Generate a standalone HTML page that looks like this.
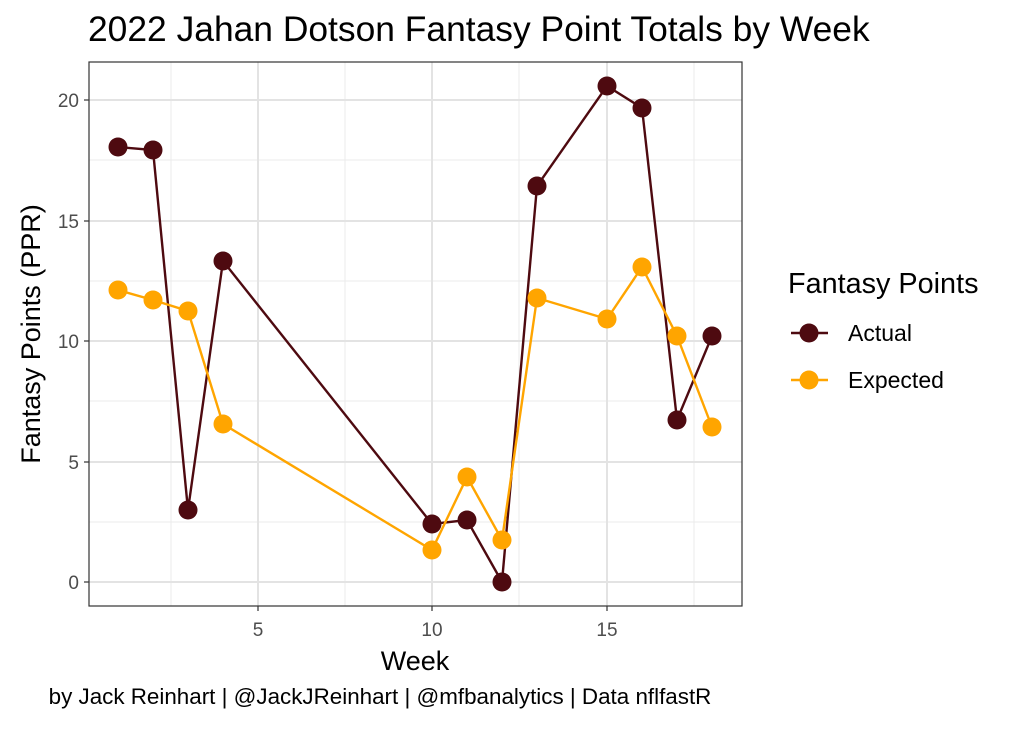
<!DOCTYPE html>
<html><head><style>body{margin:0;background:#fff}</style></head><body>
<svg width="1010" height="728" xmlns="http://www.w3.org/2000/svg" font-family="Liberation Sans, sans-serif">
<rect width="1010" height="728" fill="#fff"/>
<g stroke="#ebebeb" stroke-width="1">
<line x1="171" y1="62" x2="171" y2="606"/><line x1="345" y1="62" x2="345" y2="606"/><line x1="519" y1="62" x2="519" y2="606"/><line x1="694" y1="62" x2="694" y2="606"/>
<line x1="89" y1="522" x2="742" y2="522"/><line x1="89" y1="401" x2="742" y2="401"/><line x1="89" y1="281" x2="742" y2="281"/><line x1="89" y1="160" x2="742" y2="160"/>
</g>
<g stroke="#e3e3e3" stroke-width="2">
<line x1="258" y1="62" x2="258" y2="606"/><line x1="432" y1="62" x2="432" y2="606"/><line x1="607" y1="62" x2="607" y2="606"/>
<line x1="89" y1="582" x2="742" y2="582"/><line x1="89" y1="462" x2="742" y2="462"/><line x1="89" y1="341" x2="742" y2="341"/><line x1="89" y1="221" x2="742" y2="221"/><line x1="89" y1="100" x2="742" y2="100"/>
</g>
<polyline fill="none" stroke="#4E0A10" stroke-width="2.4" points="118,147 153,150 188,510 223,261 432,524 467,520 502,582 537,186 607,86 642,108 677,420 712,336"/>
<g fill="#4E0A10"><circle cx="118" cy="147" r="9.5"/><circle cx="153" cy="150" r="9.5"/><circle cx="188" cy="510" r="9.5"/><circle cx="223" cy="261" r="9.5"/><circle cx="432" cy="524" r="9.5"/><circle cx="467" cy="520" r="9.5"/><circle cx="502" cy="582" r="9.5"/><circle cx="537" cy="186" r="9.5"/><circle cx="607" cy="86" r="9.5"/><circle cx="642" cy="108" r="9.5"/><circle cx="677" cy="420" r="9.5"/><circle cx="712" cy="336" r="9.5"/></g>
<polyline fill="none" stroke="#FFA500" stroke-width="2.4" points="118,290 153,300 188,311 223,424 432,550 467,477 502,540 537,298 607,319 642,267 677,336 712,427"/>
<g fill="#FFA500"><circle cx="118" cy="290" r="9.5"/><circle cx="153" cy="300" r="9.5"/><circle cx="188" cy="311" r="9.5"/><circle cx="223" cy="424" r="9.5"/><circle cx="432" cy="550" r="9.5"/><circle cx="467" cy="477" r="9.5"/><circle cx="502" cy="540" r="9.5"/><circle cx="537" cy="298" r="9.5"/><circle cx="607" cy="319" r="9.5"/><circle cx="642" cy="267" r="9.5"/><circle cx="677" cy="336" r="9.5"/><circle cx="712" cy="427" r="9.5"/></g>
<rect x="89" y="62" width="653" height="544" fill="none" stroke="#333" stroke-width="1.2"/>
<g stroke="#333" stroke-width="1.2"><line x1="84" y1="582" x2="89" y2="582"/><line x1="84" y1="462" x2="89" y2="462"/><line x1="84" y1="341" x2="89" y2="341"/><line x1="84" y1="221" x2="89" y2="221"/><line x1="84" y1="100" x2="89" y2="100"/>
<line x1="258" y1="606" x2="258" y2="611"/><line x1="432" y1="606" x2="432" y2="611"/><line x1="607" y1="606" x2="607" y2="611"/></g>
<g font-size="19" fill="#4d4d4d" text-anchor="end"><text x="79" y="589">0</text><text x="79" y="469">5</text><text x="79" y="348">10</text><text x="79" y="228">15</text><text x="79" y="107">20</text></g>
<g font-size="19" fill="#4d4d4d" text-anchor="middle"><text x="258" y="636">5</text><text x="432" y="636">10</text><text x="607" y="636">15</text></g>
<text x="415" y="670" font-size="27" text-anchor="middle">Week</text>
<text transform="translate(40,334) rotate(-90)" font-size="27" text-anchor="middle">Fantasy Points (PPR)</text>
<text x="88" y="41" font-size="35.4">2022 Jahan Dotson Fantasy Point Totals by Week</text>
<text x="380" y="704" font-size="22.4" text-anchor="middle">by Jack Reinhart | @JackJReinhart | @mfbanalytics | Data nflfastR</text>
<text x="788" y="293" font-size="28.8">Fantasy Points</text>
<line x1="791" y1="333" x2="828" y2="333" stroke="#4E0A10" stroke-width="2.4"/><circle cx="809" cy="333" r="9.5" fill="#4E0A10"/>
<line x1="791" y1="380" x2="828" y2="380" stroke="#FFA500" stroke-width="2.4"/><circle cx="809" cy="380" r="9.5" fill="#FFA500"/>
<text x="848" y="341" font-size="23">Actual</text>
<text x="848" y="388" font-size="23">Expected</text>
</svg>
</body></html>
